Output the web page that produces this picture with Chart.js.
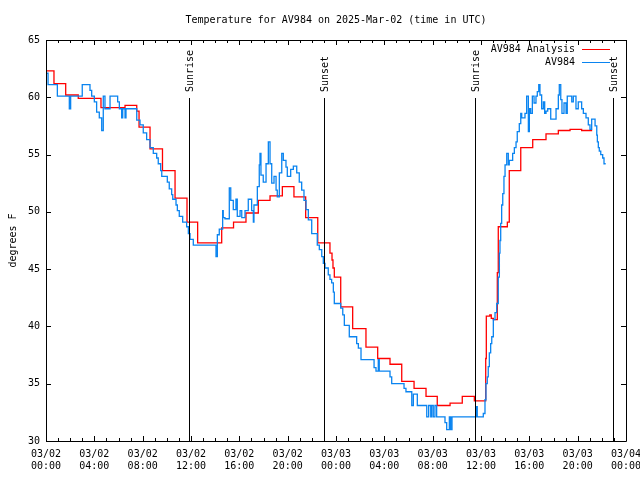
<!DOCTYPE html>
<html>
<head>
<meta charset="utf-8">
<title>AV984</title>
<script src="https://cdn.jsdelivr.net/npm/chart.js@4/dist/chart.umd.min.js"></script>
<style>
  html, body { margin: 0; padding: 0; background: #fff; }
</style>
</head>
<body>
<canvas id="grafico" width="640" height="480"></canvas>
<script>
// tempi in ore dalle 03/02 00:00 UTC
var oreAnalisi = [0,0.66,1.63,2.67,4.55,6.54,7.51,7.70,8.61,9.64,10.68,11.67,12.55,14.54,15.52,16.55,17.57,18.54,19.56,20.52,21.49,22.49,23.50,23.67,23.75,23.86,24.39,25.38,26.48,27.45,28.47,29.44,30.46,31.45,32.38,33.44,34.45,35.45,36.39,36.44,36.73,36.85,37.02,37.35,37.43,38.18,38.34,39.29,40.28,41.38,42.40,43.37,44.33,45.20];
var tempAnalisi = [62.3,61.2,60.2,59.9,59.1,59.3,58.8,57.4,55.5,53.6,51.2,49.1,47.3,48.6,49.1,49.9,51.0,51.4,52.2,51.3,49.5,47.3,46.4,45.8,45.1,44.3,41.7,39.8,38.2,37.2,36.7,35.2,34.6,33.9,33.1,33.3,33.9,33.5,37.2,40.9,41.0,40.7,40.6,44.7,48.7,49.1,53.6,55.6,56.3,56.8,57.1,57.2,57.1,57.1];

var oreStazione = [0,0.17,0.94,1.93,2.04,3.00,3.64,3.78,4.00,4.19,4.41,4.61,4.74,4.88,5.30,5.93,6.07,6.26,6.35,6.54,6.62,7.51,7.78,8.05,8.33,8.61,8.88,9.16,9.29,9.49,9.58,10.04,10.20,10.40,10.49,10.76,10.87,11.03,11.31,11.64,11.78,11.92,12.19,14.07,14.18,14.34,14.62,14.67,14.81,15.17,15.29,15.50,15.72,15.83,16.06,16.20,16.47,16.74,17.02,17.16,17.21,17.49,17.65,17.71,17.79,17.98,18.21,18.40,18.54,18.68,18.87,19.04,19.14,19.31,19.51,19.64,19.86,19.97,20.25,20.47,20.75,20.96,21.16,21.35,21.52,21.71,21.99,22.45,22.62,22.82,22.95,23.09,23.36,23.50,23.64,23.78,23.86,24.39,24.56,24.69,25.10,25.71,25.85,26.07,27.15,27.31,27.50,27.58,28.47,28.61,29.63,29.79,30.27,30.40,30.73,31.51,31.67,31.84,31.92,32.05,32.19,32.33,33.02,33.16,33.38,33.49,33.60,35.59,35.69,36.19,36.33,36.41,36.52,36.60,36.69,36.80,36.89,37.02,37.16,37.30,37.43,37.52,37.57,37.63,37.71,37.80,37.90,37.99,38.13,38.26,38.34,38.62,38.76,38.90,39.00,39.17,39.29,39.37,39.64,39.78,39.92,40.00,40.11,40.25,40.39,40.55,40.66,40.78,40.88,41.02,41.16,41.27,41.38,41.52,41.77,42.21,42.40,42.48,42.60,42.70,42.87,43.04,43.14,43.51,43.64,43.86,44.05,44.33,44.47,44.69,44.88,45.02,45.16,45.44,45.58,45.63,45.71,45.79,45.91,46.07,46.18,46.32];
var tempStazione = [62.1,61.1,60.1,59.0,60.1,61.1,60.6,60.1,59.6,58.7,58.2,57.1,60.1,59.0,60.1,59.6,59.0,58.2,59.0,58.2,59.0,58.0,57.6,56.9,56.3,55.6,55.1,54.7,54.2,53.6,53.1,52.6,52.0,51.5,51.1,50.6,50.1,49.6,49.1,48.7,48.1,47.6,47.1,46.1,48.0,48.5,50.1,49.5,49.4,52.1,51.0,50.2,51.1,49.6,50.1,49.5,50.1,51.1,50.1,49.1,50.6,52.2,54.1,55.1,53.2,52.6,54.2,56.1,54.2,52.5,53.1,51.9,51.3,53.4,55.1,54.5,53.9,53.1,53.7,54.0,53.4,52.6,51.9,51.0,50.2,49.3,48.1,47.1,46.7,46.1,45.5,45.1,44.5,44.1,43.8,43.0,42.0,41.6,41.0,40.1,39.1,38.5,38.1,37.1,36.4,36.1,37.1,36.1,35.6,35.0,34.6,34.3,33.1,34.1,33.1,32.1,33.1,32.1,33.1,32.1,33.1,32.1,31.6,31.0,32.1,31.0,32.1,33.0,32.1,32.4,33.6,35.0,35.6,36.5,37.7,38.5,39.1,40.6,41.2,42.0,44.3,46.4,47.5,49.0,50.6,51.6,53.1,54.1,55.1,54.1,54.5,55.1,55.6,56.1,57.0,57.7,58.6,58.2,58.6,60.1,57.0,59.0,58.6,60.1,59.5,60.1,60.5,61.1,60.2,59.0,59.6,58.6,58.8,59.0,58.1,59.0,60.2,61.1,59.8,58.6,59.5,58.6,60.1,59.6,60.1,59.0,59.6,59.0,58.6,58.2,57.6,57.2,58.1,57.5,56.7,56.1,55.6,55.3,55.0,54.7,54.2,54.2];

// alba / tramonto
var oreEventi = [11.83, 23.03, 35.53, 46.9];
var nomiEventi = ['Sunrise', 'Sunset', 'Sunrise', 'Sunset'];

var giorni = ['03/02', '03/03', '03/04'];

function punti(ore, valori){
  var arr = [];
  for (var i = 0; i < ore.length; i++){
    arr.push({x: ore[i], y: valori[i]});
  }
  return arr;
}

function due(n){
  return (n < 10 ? '0' : '') + n;
}

var FONT = "'DejaVu Sans Mono', monospace";
Chart.defaults.font.family = FONT;
Chart.defaults.font.size = 10;
Chart.defaults.color = '#000';

var cornice = {
  id: 'cornice',
  afterDraw: function(chart){
    var ctx = chart.ctx;
    var area = chart.chartArea;
    var sx = chart.scales.x;
    var sy = chart.scales.y;
    var L = Math.round(area.left), R = Math.round(area.right);
    var T = Math.round(area.top), B = Math.round(area.bottom);
    ctx.save();
    ctx.strokeStyle = '#000';
    ctx.lineWidth = 1;
    ctx.beginPath();
    ctx.rect(L + 0.5, T + 0.5, R - L, B - T);
    // tacche asse x: ogni ora, grandi ogni 4
    for (var h = 0; h <= 48; h++){
      var px = Math.round(sx.getPixelForValue(h)) + 0.5;
      var len = (h % 4 == 0) ? 5 : 3;
      ctx.moveTo(px, B); ctx.lineTo(px, B - len);
      ctx.moveTo(px, T); ctx.lineTo(px, T + len);
    }
    for (var t = 30; t <= 65; t += 5){
      var py = Math.round(sy.getPixelForValue(t)) + 0.5;
      ctx.moveTo(L, py); ctx.lineTo(L + 5, py);
      ctx.moveTo(R, py); ctx.lineTo(R - 5, py);
    }
    ctx.stroke();

    // linee alba e tramonto
    ctx.font = '10px ' + FONT;
    ctx.fillStyle = '#000';
    for (var i = 0; i < oreEventi.length; i++){
      var ex = Math.round(sx.getPixelForValue(oreEventi[i])) + 0.5;
      ctx.beginPath();
      ctx.moveTo(ex, T + 58);
      ctx.lineTo(ex, B);
      ctx.stroke();
      ctx.save();
      ctx.translate(ex + 1, T + 52);
      ctx.rotate(-Math.PI / 2);
      ctx.textAlign = 'left';
      ctx.textBaseline = 'middle';
      ctx.fillText(nomiEventi[i], 0, 0);
      ctx.restore();
    }

    // legenda in alto a destra
    var ds = chart.data.datasets;
    ctx.textAlign = 'right';
    ctx.textBaseline = 'middle';
    for (var k = 0; k < ds.length; k++){
      var ly = T + 9 + k * 13;
      ctx.fillText(ds[k].label, R - 51, ly);
      ctx.strokeStyle = ds[k].borderColor;
      ctx.beginPath();
      ctx.moveTo(R - 44, ly + 0.5);
      ctx.lineTo(R - 16, ly + 0.5);
      ctx.stroke();
    }
    ctx.restore();
  }
};

var grafico = new Chart(document.getElementById('grafico'), {
  type: 'line',
  data: {
    datasets: [{
      label: 'AV984 Analysis',
      data: punti(oreAnalisi, tempAnalisi),
      borderColor: '#ff0000',
      borderWidth: 1.3,
      stepped: true,
      pointRadius: 0,
      fill: false,
      order: 2
    }, {
      label: 'AV984',
      data: punti(oreStazione, tempStazione),
      borderColor: '#0a84f0',
      borderWidth: 1.3,
      stepped: true,
      pointRadius: 0,
      fill: false,
      order: 1
    }]
  },
  options: {
    responsive: false,
    animation: false,
    devicePixelRatio: 1,
    layout: { padding: { top: 0, right: 14, bottom: 0, left: 0 } },
    plugins: {
      legend: { display: false },
      tooltip: { enabled: false },
      title: {
        display: true,
        fullSize: false,
        text: 'Temperature for AV984 on 2025-Mar-02 (time in UTC)',
        font: { family: FONT, size: 10, weight: 'normal', lineHeight: 1.2 },
        color: '#000',
        padding: { top: 14, bottom: 14 }
      }
    },
    scales: {
      x: {
        type: 'linear',
        min: 0,
        max: 48,
        grid: { display: false, drawTicks: false },
        border: { display: false },
        ticks: {
          stepSize: 4,
          autoSkip: false,
          maxRotation: 0,
          padding: 7,
          font: { family: FONT, size: 10, lineHeight: 1.25 },
          callback: function(v){
            var g = Math.floor(v / 24);
            return [giorni[g], due(v % 24) + ':00'];
          }
        },
        afterFit: function(s){
          s.height = 39;
          s.paddingLeft = 0;
          s.paddingRight = 0;
        }
      },
      y: {
        min: 30,
        max: 65,
        grid: { display: false, drawTicks: false },
        border: { display: false },
        ticks: { stepSize: 5, padding: 6, font: { family: FONT, size: 10 } },
        title: {
          display: true,
          text: 'degrees F',
          font: { family: FONT, size: 10, lineHeight: 1.2 },
          padding: { top: 7, bottom: 0 }
        },
        afterFit: function(s){
          s.width = 46;
          s.paddingTop = 0;
          s.paddingBottom = 0;
        }
      }
    }
  },
  plugins: [cornice]
});
</script>
</body>
</html>
